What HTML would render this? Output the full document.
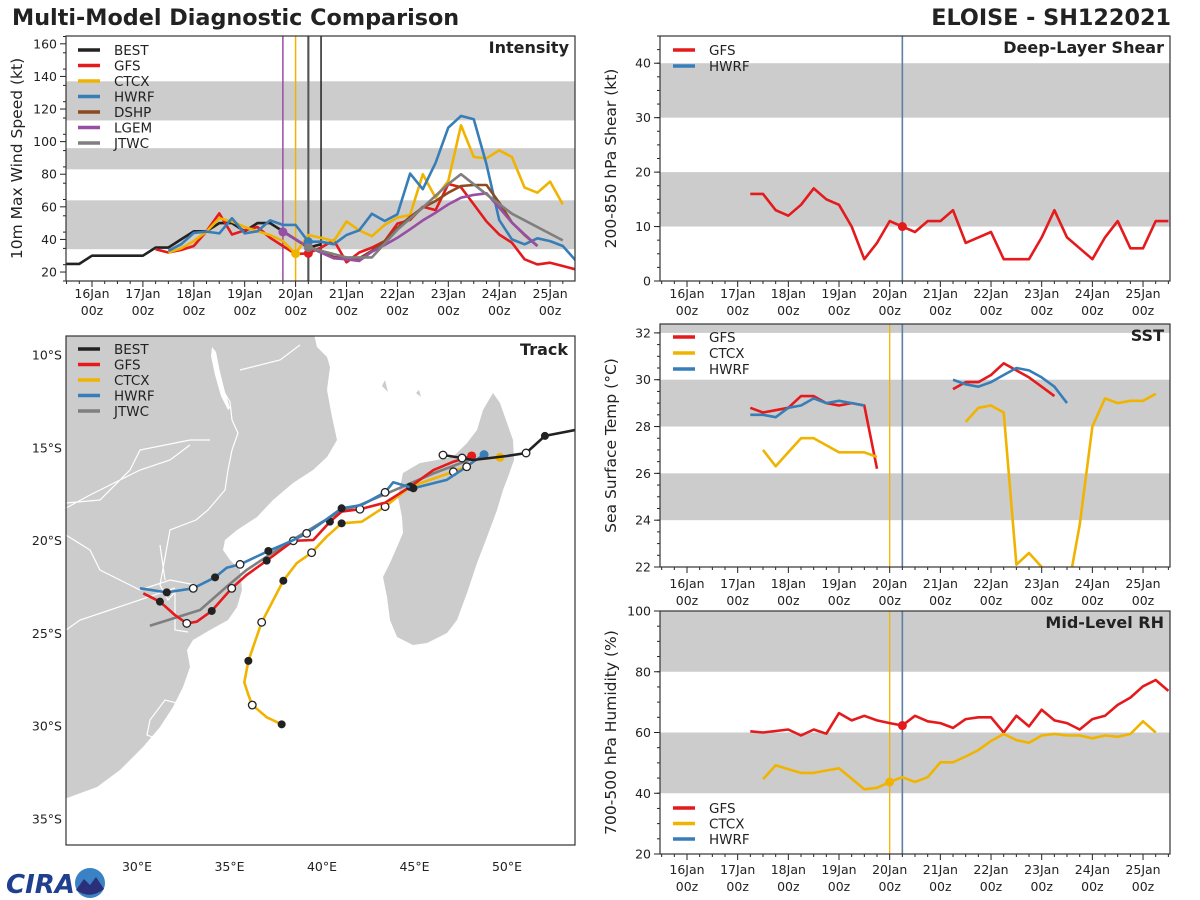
<!DOCTYPE html>
<html><head><meta charset="utf-8"><title>Multi-Model Diagnostic Comparison</title>
<style>
html,body{margin:0;padding:0;background:#fff;}
svg{display:block;font-family:"DejaVu Sans","Liberation Sans",sans-serif;}
</style></head>
<body>
<svg id="fig" xmlns="http://www.w3.org/2000/svg" width="1200" height="900" viewBox="0 0 1200 900">
<text x="12" y="25" font-size="22.3" font-weight="bold" fill="#222">Multi-Model Diagnostic Comparison</text>
<text x="1171" y="25" font-size="22.3" font-weight="bold" fill="#222" text-anchor="end">ELOISE - SH122021</text>
<g>
<text x="6" y="893" font-size="26" font-weight="bold" font-style="italic" fill="#1f3f8f">CIRA</text>
<circle cx="90" cy="883" r="15" fill="#3b82c4"/>
<path d="M76,890 L84,879 L90,885 L96,877 L104,889 Q90,900 76,890Z" fill="#2b2f7a"/>
</g>
</svg>
<script>
// ---------- DATA ----------
const intBestStart = -12;
const intBest = [25,25,30,30,30,30,30,35,35,40,45,45,50,50,45,50,50,45,40,35,37];
const intGfsStart = 30;
const intGfs = [34,32,33.5,36,45,56,43,45.6,47.6,41,36,31,31.5,35,39.5,26,32,35,39,49.7,52,60,58,74,72,61.5,51,43,38,27.8,24.7,25.7,23.7,21.6];
const intCtcxStart = 36;
const intCtcx = [32,34.5,39,44.8,53,51,47.6,45,42.7,39,31.3,42.7,41,39,51,45.6,42,48.9,53.4,55,80,65.6,75.9,110,90.6,89.8,94.7,90.6,71.8,68.7,75.5,61.5];
const intHwrfStart = 36;
const intHwrf = [33,37,44,44.8,43.7,53,43.7,45,51.7,48.9,48.9,38.6,38.6,37,42.7,45.6,55.8,51.3,55.4,80.4,70.8,87,108.6,115.8,113.7,86,52,40,37,40.7,39,36,27.2];
const intDshpStart = 102;
const intDshp = [35.4,33,29.2,28.4,28.4,33,39,47,53.8,59.5,63.6,68.7,72.8,73.4,73.4,62.6,50.3,42.7,36];
const intLgemStart = 90;
const intLgem = [44.6,40,35.4,31.9,28.4,27.8,26.8,32.5,36.6,41,46.2,51.7,56.4,61.5,65.6,67.3,68.3,59.5,50.3,43.1,36];
const intJtwcHours = [102,108,120,132,144,156,168,174,186,198,222];
const intJtwc = [35,33,29,29,46,59.5,74,80,67.7,55.8,39.4];
const intervalLabels = ["16Jan","17Jan","18Jan","19Jan","20Jan","21Jan","22Jan","23Jan","24Jan","25Jan"];
const intYTicks = [20,40,60,80,100,120,140,160];
const shearGfsStart = 30;
const shearGfs = [16,16,13,12,14,17,15,14,10,4,7,11,10,9,11,11,13,7,8,9,4,4,4,8,13,8,6,4,8,11,6,6,11,11];
const shearYTicks = [0,10,20,30,40];
const sstGfsStart = 30;
const sstGfs = [28.8,28.6,28.7,28.8,29.3,29.3,29.0,28.9,29.0,28.9,26.2,null,null,null,null,null,29.6,29.9,29.9,30.2,30.7,30.4,30.1,29.7,29.3];
const sstHwrfStart = 30;
const sstHwrf = [28.5,28.5,28.4,28.8,28.9,29.2,29.0,29.1,29.0,28.9,null,null,null,null,null,null,30.0,29.8,29.7,29.9,30.2,30.5,30.4,30.1,29.7,29.0];
const sstCtcxStart = 36;
const sstCtcx = [27.0,26.3,26.9,27.5,27.5,27.2,26.9,26.9,26.9,26.7,null,null,null,null,null,null,28.2,28.8,28.9,28.6,22.1,22.6,22.0,21.5,20.8,23.8,28.0,29.2,29.0,29.1,29.1,29.4];
const sstYTicks = [22,24,26,28,30,32];
const rhGfsStart = 30;
const rhGfs = [60.4,60,60.5,61,59,61,59.6,66.4,64,65.5,64,63.1,62.3,65.5,63.7,63.1,61.5,64.4,65,65,60,65.5,62,67.5,64,63.1,61,64.4,65.5,69.1,71.5,75.2,77.3,73.7];
const rhCtcxStart = 36;
const rhCtcx = [44.6,49.2,47.9,46.7,46.7,47.5,48.2,44.8,41.3,41.8,43.7,45.3,43.7,45.3,50.2,50.2,52.1,54.2,57.2,59.5,57.5,56.6,59,59.5,59,59,58.1,59,58.6,59.5,63.7,60];
const rhYTicks = [20,40,60,80,100];
const trkBestLon = [53.68,52.05,51.03,50.0,48.16,47.57,46.54];
const trkBestLat = [14.04,14.36,15.28,15.44,15.66,15.55,15.39];
const trkGfsLon = [48.09,47.10,46.02,44.76,43.41,42.05,41.06,40.43,39.53,38.45,37.01,35.93,35.12,34.04,33.23,32.69,32.05,31.24,30.34];
const trkGfsLat = [15.44,15.75,16.20,17.10,17.96,18.31,18.44,18.98,19.97,20.01,21.08,21.85,22.57,23.79,24.37,24.46,24.01,23.29,22.84];
const trkHwrfLon = [48.76,48.18,47.82,46.74,44.94,43.85,43.41,42.15,41.06,40.07,39.17,38.27,37.10,35.57,34.85,34.22,33.04,31.61,30.16];
const trkHwrfLat = [15.37,15.75,16.02,16.73,17.18,16.86,17.40,18.08,18.26,18.98,19.61,20.06,20.56,21.28,21.46,21.98,22.57,22.79,22.57];
const trkCtcxLon = [49.62,48.36,47.85,47.10,44.76,43.41,42.15,41.06,40.25,39.44,38.63,37.91,37.37,36.74,36.38,36.02,35.80,36.02,36.23,37.01,37.82];
const trkCtcxLat = [15.51,15.62,15.98,16.29,17.10,18.17,18.98,19.07,19.79,20.65,21.22,22.16,23.20,24.40,25.44,26.48,27.64,28.32,28.86,29.52,29.90];
const trkJtwcLon = [48.18,47.46,46.02,44.58,43.32,42.05,40.97,39.89,38.99,38.09,37.01,35.93,34.85,33.41,30.70];
const trkJtwcLat = [15.57,15.84,16.38,17.00,17.54,18.08,18.44,19.07,19.61,20.15,20.87,21.58,22.48,23.74,24.59];
const bestFilledIdx = [1]; const bestOpenIdx = [2,5,6];
const gfsFilledIdx = [3,7,10,13,17]; const gfsOpenIdx = [5,9,12,15];
const hwrfFilledIdx = [4,8,12,15,17]; const hwrfOpenIdx = [2,6,10,13,16];
const ctcxFilledIdx = [4,7,11,15,20]; const ctcxOpenIdx = [3,5,9,13,18];
const lonTicks = [30,35,40,45,50];
const latTicks = [10,15,20,25,30,35];

// ---------- DRAWING ----------
const NS = "http://www.w3.org/2000/svg";
const svg = document.getElementById("fig");
const C = {best:"#222222",gfs:"#e41a1c",ctcx:"#f0b400",hwrf:"#377eb8",dshp:"#8c4a1f",lgem:"#984ea3",jtwc:"#7f7f7f",band:"#cccccc"};
function el(tag, attrs, parent){const e=document.createElementNS(NS,tag);for(const k in attrs)e.setAttribute(k,attrs[k]);(parent||svg).appendChild(e);return e;}
function txt(x,y,s,attrs,parent){const e=el("text",Object.assign({x:x,y:y,"font-size":12,fill:"#222"},attrs||{}),parent);e.textContent=s;return e;}

let clipN=0;
function panel(cfg){
  const g=el("g",{});
  
  
  const id="clip"+(clipN++);
  const cp=el("clipPath",{id:id},g);
  el("rect",{x:cfg.x0,y:cfg.y0,width:cfg.x1-cfg.x0,height:cfg.y1-cfg.y0},cp);
  const xs=t=>cfg.x16+t/24*cfg.ppd;
  const ys=v=>cfg.y1-(v-cfg.vmin)/(cfg.vmax-cfg.vmin)*(cfg.y1-cfg.y0);
  const inner=el("g",{"clip-path":"url(#"+id+")"},g);
  cfg.bands.forEach(b=>{
    const r=el("rect",{x:cfg.x0,y:ys(b[1]),width:cfg.x1-cfg.x0,height:ys(b[0])-ys(b[1]),fill:C.band},inner);
    
    
  });
  return {g:g,inner:inner,xs:xs,ys:ys,cfg:cfg};
}
function finishPanel(P, yTicks, yMinorStep, yTitle, titleText, dateY){
  const c=P.cfg, g=P.g;
  for(let h=-12; h<=240; h+=6){
    const x=P.xs(h); if(x<c.x0-0.5||x>c.x1+0.5) continue;
    const major=(h%24===0);
    el("line",{x1:x,x2:x,y1:c.y1,y2:c.y1+(major?6:3),stroke:"#222","stroke-width":1},g);
  }
  intervalLabels.forEach((s,i)=>{
    const x=P.xs(i*24);
    const t1=txt(x,dateY,s,{"text-anchor":"middle","font-size":12.5},g);
    
    
    const t2=txt(x,dateY+17,"00z",{"text-anchor":"middle","font-size":12.5},g);
    
    
  });
  for(let v=c.vmin; v<=c.vmax+1e-6; v+=yMinorStep){
    const y=P.ys(v); if(y<c.y0-0.5||y>c.y1+0.5) continue;
    el("line",{x1:c.x0-3,x2:c.x0,y1:y,y2:y,stroke:"#222","stroke-width":1},g);
  }
  yTicks.forEach(v=>{
    const y=P.ys(v); if(y<c.y0-0.5||y>c.y1+0.5) return;
    el("line",{x1:c.x0-6,x2:c.x0,y1:y,y2:y,stroke:"#222","stroke-width":1},g);
    const t=txt(c.x0-9,y+4.5,String(v),{"text-anchor":"end","font-size":12.5},g);
    
    
  });
  el("rect",{x:c.x0,y:c.y0,width:c.x1-c.x0,height:c.y1-c.y0,fill:"none",stroke:"#333","stroke-width":1.2},g);
  const cy=(c.y0+c.y1)/2, tx=c.x0-44;
  const yt=txt(tx,cy,yTitle,{"text-anchor":"middle","font-size":15.5,transform:"rotate(-90 "+tx+" "+cy+")"},g);
  
  
  const pt=txt(c.x1-6,c.y0+17,titleText,{"text-anchor":"end","font-size":16,"font-weight":"bold"},g);
  
  
}
function series(P, start, vals, color, name, hours){
  let d="", pen=false;
  vals.forEach((v,i)=>{
    if(v===null){pen=false;return;}
    const h=hours?hours[i]:start+i*6;
    d+=(pen?"L":"M")+P.xs(h).toFixed(1)+","+P.ys(v).toFixed(1);
    pen=true;
  });
  const p=el("path",{d:d,fill:"none",stroke:color,"stroke-width":2.6,"stroke-linejoin":"round"},P.inner);
  
  
  return p;
}
function vline(P,h,color,w){
  const c=P.cfg;const x=P.xs(h);
  const l=el("line",{x1:x,x2:x,y1:c.y0,y2:c.y1,stroke:color,"stroke-width":w||1.3},P.inner);
  
  
}
function dot(P,h,v,color){
  const d=el("circle",{cx:P.xs(h),cy:P.ys(v),r:4.5,fill:color},P.inner);
  
  
}
function legend(parent,x,y,entries,step){
  const g=el("g",{},parent);
  
  
  entries.forEach((e,i)=>{
    const yy=y+i*step;
    const l=el("line",{x1:x,x2:x+22,y1:yy,y2:yy,stroke:e[1],"stroke-width":3.5},g);
    
    
    const t=txt(x+36,yy+5,e[0],{"font-size":13.5},g);
    
    
  });
}
function valAt(start,vals,h){return vals[(h-start)/6];}

const PI=panel({name:"intensity-panel",x0:66,x1:575,y0:36,y1:281,x16:92,ppd:50.9,vmin:14.5,vmax:164.8,bands:[[34,64],[83,96],[113,137]]});
vline(PI,90,C.lgem,1.5);vline(PI,96,C.ctcx,1.5);vline(PI,102,C.jtwc,2.5);vline(PI,102,"#444",0.8);vline(PI,108,C.best,1.5);
series(PI,intBestStart,intBest,C.best,"best-intensity-line");
series(PI,intGfsStart,intGfs,C.gfs,"gfs-intensity-line");
series(PI,intCtcxStart,intCtcx,C.ctcx,"ctcx-intensity-line");
series(PI,intHwrfStart,intHwrf,C.hwrf,"hwrf-intensity-line");
series(PI,intDshpStart,intDshp,C.dshp,"dshp-intensity-line");
series(PI,intLgemStart,intLgem,C.lgem,"lgem-intensity-line");
series(PI,0,intJtwc,C.jtwc,"jtwc-intensity-line",intJtwcHours);
dot(PI,102,valAt(intGfsStart,intGfs,102),C.gfs);
dot(PI,96,valAt(intCtcxStart,intCtcx,96),C.ctcx);
dot(PI,102,valAt(intHwrfStart,intHwrf,102),C.hwrf);
dot(PI,90,intLgem[0],C.lgem);
dot(PI,102,intJtwc[0],C.jtwc);
finishPanel(PI,intYTicks,10,"10m Max Wind Speed (kt)","Intensity",298);
legend(PI.g,78,50,[["BEST",C.best],["GFS",C.gfs],["CTCX",C.ctcx],["HWRF",C.hwrf],["DSHP",C.dshp],["LGEM",C.lgem],["JTWC",C.jtwc]],15.5);

const PS=panel({name:"shear-panel",x0:660,x1:1170,y0:36,y1:281,x16:687,ppd:50.67,vmin:0,vmax:45,bands:[[10,20],[30,40]]});
vline(PS,102,"#5b7fa6",1.6);
series(PS,shearGfsStart,shearGfs,C.gfs,"gfs-shear-line");
dot(PS,102,valAt(shearGfsStart,shearGfs,102),C.gfs);
finishPanel(PS,shearYTicks,2.5,"200-850 hPa Shear (kt)","Deep-Layer Shear",298);
legend(PS.g,673,50,[["GFS",C.gfs],["HWRF",C.hwrf]],16);

const PT=panel({name:"sst-panel",x0:660,x1:1170,y0:324,y1:567,x16:687,ppd:50.67,vmin:22,vmax:32.38,bands:[[24,26],[28,30],[32,34]]});
vline(PT,96,C.ctcx,1.3);vline(PT,102,"#5b7fa6",1.6);
series(PT,sstGfsStart,sstGfs,C.gfs,"gfs-sst-line");
series(PT,sstCtcxStart,sstCtcx,C.ctcx,"ctcx-sst-line");
series(PT,sstHwrfStart,sstHwrf,C.hwrf,"hwrf-sst-line");
finishPanel(PT,sstYTicks,0.5,"Sea Surface Temp (°C)","SST",588);
legend(PT.g,673,337,[["GFS",C.gfs],["CTCX",C.ctcx],["HWRF",C.hwrf]],16);

const PR=panel({name:"rh-panel",x0:660,x1:1170,y0:611,y1:854,x16:687,ppd:50.67,vmin:20,vmax:100,bands:[[40,60],[80,100]]});
vline(PR,96,C.ctcx,1.3);vline(PR,102,"#5b7fa6",1.6);
series(PR,rhGfsStart,rhGfs,C.gfs,"gfs-rh-line");
series(PR,rhCtcxStart,rhCtcx,C.ctcx,"ctcx-rh-line");
dot(PR,102,valAt(rhGfsStart,rhGfs,102),C.gfs);
dot(PR,96,valAt(rhCtcxStart,rhCtcx,96),C.ctcx);
finishPanel(PR,rhYTicks,5,"700-500 hPa Humidity (%)","Mid-Level RH",874);
legend(PR.g,673,808,[["GFS",C.gfs],["CTCX",C.ctcx],["HWRF",C.hwrf]],15.5);

// ---------- TRACK MAP ----------
const M={x0:66,x1:575,y0:336,y1:845};
const lx=lon=>137+(lon-30)*18.5;
const ly=lat=>355+(lat-10)*18.56;
const gm=el("g",{});


const cpm=el("clipPath",{id:"clipmap"},gm);
el("rect",{x:M.x0,y:M.y0,width:M.x1-M.x0,height:M.y1-M.y0},cpm);
const mi=el("g",{"clip-path":"url(#clipmap)"},gm);
const africa=el("polygon",{points:"40,330 313,330 317,347 327,357 330,367 327,390 332,417 337,440 327,457 313,470 293,483 273,500 257,517 237,530 225,540 223,550 230,560 240,570 242,590 237,607 228,620 210,630 193,640 187,650 190,667 183,687 173,707 160,727 143,747 120,770 97,787 67,798 40,800",fill:C.band},mi);


const mada=el("polygon",{points:"493,393 500,403 507,423 513,440 514,460 508,477 503,490 497,510 487,537 477,563 467,593 457,620 447,633 427,643 413,645 397,637 390,620 387,597 383,577 390,563 397,547 403,533 402,517 398,497 403,473 420,463 437,460 453,457 467,443 477,430 483,410",fill:C.band},mi);


el("polygon",{points:"382,386 385,380 388,392",fill:C.band},mi);
el("polygon",{points:"416,393 419,390 421,397",fill:C.band},mi);
const borders=el("path",{d:"M213,350 L218,372 L224,392 L230,402 L232,420 L238,433 L232,450 L228,470 L225,490 L208,510 L196,520 L170,530 L160,585 L168,600 L175,592 L175,630 L188,632 M240,370 L280,360 L300,345 M66,503 L100,500 L130,470 L140,450 L190,440 L210,440 M66,535 L90,550 L100,570 L140,590 L170,580 L196,585 M66,630 L80,620 L110,610 L175,588 M165,580 L160,545 M190,445 L170,460 L140,470 L120,480 L90,495 L66,508 M150,720 L165,700 L185,705 L193,720 L180,735 L160,740 L147,735Z",fill:"none",stroke:"#fff","stroke-width":1.2},mi);


const lake=el("path",{d:"M212,347 L216,352 L220,372 L225,392 L230,408 L228,410 L221,396 L215,375 L211,356Z",fill:"#fff"},mi);


function track(lons,lats,color,name,filled,open,startDot){
  const pts=lons.map((lo,i)=>lx(lo).toFixed(1)+","+ly(lats[i]).toFixed(1)).join(" ");
  const p=el("polyline",{points:pts,fill:"none",stroke:color,"stroke-width":2.6,"stroke-linejoin":"round"},mi);
  
  
  filled.forEach(i=>{
    const c=el("circle",{cx:lx(lons[i]),cy:ly(lats[i]),r:4,fill:"#222"},mi);
    
    
  });
  open.forEach(i=>{
    const c=el("circle",{cx:lx(lons[i]),cy:ly(lats[i]),r:3.8,fill:"#fff",stroke:"#222","stroke-width":1.3},mi);
    
    
  });
  if(startDot){
    const s=el("circle",{cx:lx(lons[0]),cy:ly(lats[0]),r:4.5,fill:color},mi);
    
    
  }
}
track(trkJtwcLon,trkJtwcLat,C.jtwc,"jtwc-track",[],[],false);
track(trkCtcxLon,trkCtcxLat,C.ctcx,"ctcx-track",ctcxFilledIdx,ctcxOpenIdx,true);
track(trkGfsLon,trkGfsLat,C.gfs,"gfs-track",gfsFilledIdx,gfsOpenIdx,true);
track(trkHwrfLon,trkHwrfLat,C.hwrf,"hwrf-track",hwrfFilledIdx,hwrfOpenIdx,true);
track(trkBestLon,trkBestLat,C.best,"best-track",bestFilledIdx,bestOpenIdx,false);
el("rect",{x:M.x0,y:M.y0,width:M.x1-M.x0,height:M.y1-M.y0,fill:"none",stroke:"#333","stroke-width":1.2},gm);
lonTicks.forEach(lo=>{
  const t=txt(lx(lo),871,lo+"°E",{"text-anchor":"middle","font-size":12.5},gm);
  
  
});
latTicks.forEach(la=>{
  const t=txt(62,ly(la)+4.5,la+"°S",{"text-anchor":"end","font-size":12.5},gm);
  
  
});
const tt=txt(568,355,"Track",{"text-anchor":"end","font-size":16,"font-weight":"bold"},gm);


legend(gm,78,349,[["BEST",C.best],["GFS",C.gfs],["CTCX",C.ctcx],["HWRF",C.hwrf],["JTWC",C.jtwc]],15.5);
</script>
</body></html>
